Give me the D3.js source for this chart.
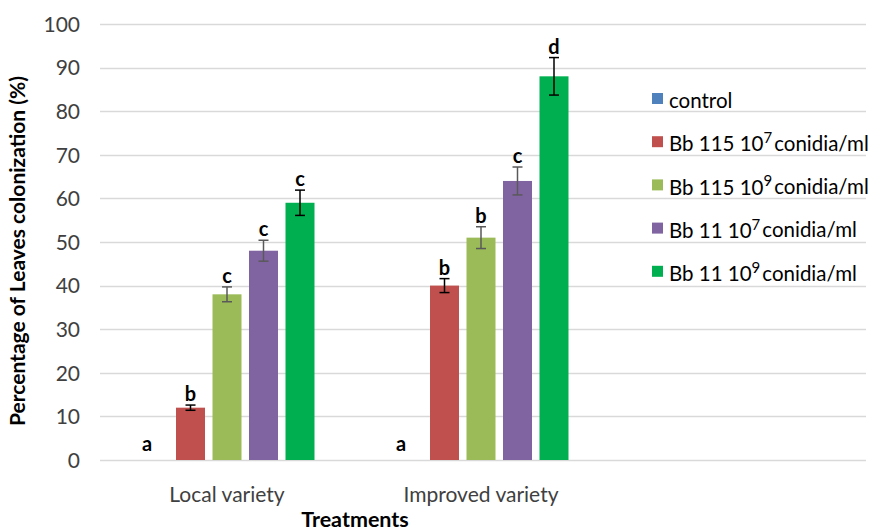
<!DOCTYPE html>
<html>
<head>
<meta charset="utf-8">
<script src="https://cdn.jsdelivr.net/npm/d3@7"></script>
<style>
  html, body { margin: 0; padding: 0; background: #fff; }
  svg { display: block; font-family: Lato, "Open Sans", sans-serif; }
</style>
</head>
<body>
<svg id="chart" width="874" height="532"></svg>
<script>
// Varieties on the category axis (third slot left empty, as in the workbook layout)
const categories = ["Local variety", "Improved variety", ""];
// Treatments (series)
const seriesNames = ["control", "Bb 115 10|7 conidia/ml", "Bb 115 10|9 conidia/ml", "Bb 11 10|7 conidia/ml", "Bb 11 10|9 conidia/ml"];
const seriesColors = ["#4F81BD", "#C0504D", "#9BBB59", "#8064A2", "#00B050"];
const errorColors = ["#000000", "#000000", "#595959", "#595959", "#000000"];
// Mean colonization (%) per series, one entry per variety
const controlValues = [0, 0];
const bb115lowValues = [12, 40];
const bb115highValues = [38, 51];
const bb11lowValues = [48, 64];
const bb11highValues = [59, 88];
// Standard errors
const controlErr = [0, 0];
const bb115lowErr = [0.6, 1.6];
const bb115highErr = [1.7, 2.5];
const bb11lowErr = [2.4, 3.2];
const bb11highErr = [2.9, 4.3];
// Significance letters
const controlLetters = ["a", "a"];
const bb115lowLetters = ["b", "b"];
const bb115highLetters = ["c", "b"];
const bb11lowLetters = ["c", "c"];
const bb11highLetters = ["c", "d"];
const yTicks = [0, 10, 20, 30, 40, 50, 60, 70, 80, 90, 100];

const values = [controlValues, bb115lowValues, bb115highValues, bb11lowValues, bb11highValues];
const errs = [controlErr, bb115lowErr, bb115highErr, bb11lowErr, bb11highErr];
const letters = [controlLetters, bb115lowLetters, bb115highLetters, bb11lowLetters, bb11highLetters];

const svg = d3.select("#chart");
const plot = { left: 100, right: 862, top: 24, bottom: 460 };

const x = d3.scaleBand().domain(categories).range([plot.left, plot.right]).paddingInner(0).paddingOuter(0);
const slotW = 36.5;
const barW = 29;
const xs = d3.scaleBand().domain(d3.range(seriesNames.length))
  .range([-slotW * 2.5, slotW * 2.5]).paddingInner((slotW - barW) / slotW).paddingOuter((slotW - barW) / slotW / 2);
const y = d3.scaleLinear().domain([0, 100]).range([plot.bottom, plot.top]);

// Gridlines
svg.append("g").selectAll("line").data(yTicks).join("line")
  .attr("x1", plot.left).attr("x2", plot.right + 4)
  .attr("y1", d => Math.round(y(d)) + 0.5).attr("y2", d => Math.round(y(d)) + 0.5)
  .attr("stroke", "#D9D9D9").attr("stroke-width", 1.3);

// Y axis labels
const yAxis = d3.axisLeft(y).tickValues(yTicks).tickSize(0).tickPadding(20);
const yg = svg.append("g").attr("transform", `translate(${plot.left},0)`).call(yAxis);
yg.select(".domain").remove();
yg.selectAll("text").attr("font-size", 21).attr("fill", "#404040").attr("font-family", "Lato, sans-serif").attr("dy", "0.35em");

// X axis labels
const xAxis = d3.axisBottom(x).tickSize(0).tickPadding(27);
const xg = svg.append("g").attr("transform", `translate(0,${plot.bottom})`).call(xAxis);
xg.select(".domain").remove();
xg.selectAll("text").attr("font-size", 21).attr("fill", "#404040").attr("font-family", "Lato, sans-serif");

// Bars, error bars and letters
const groups = svg.append("g").selectAll("g").data(categories.slice(0, 2)).join("g")
  .attr("transform", d => `translate(${x(d) + x.bandwidth() / 2},0)`);

groups.each(function (cat, ci) {
  const g = d3.select(this);
  seriesNames.forEach((s, si) => {
    const v = values[si][ci];
    const e = errs[si][ci];
    const bx = xs(si);
    const cx = bx + xs.bandwidth() / 2;
    if (v > 0) {
      g.append("rect").attr("x", bx).attr("width", xs.bandwidth())
        .attr("y", y(v)).attr("height", y(0) - y(v)).attr("fill", seriesColors[si]);
    }
    if (e > 0) {
      const eg = g.append("g").attr("stroke", errorColors[si]).attr("stroke-width", 1.5);
      eg.append("line").attr("x1", cx).attr("x2", cx).attr("y1", y(v + e)).attr("y2", y(v - e));
      eg.append("line").attr("x1", cx - 5).attr("x2", cx + 5).attr("y1", y(v + e)).attr("y2", y(v + e));
      eg.append("line").attr("x1", cx - 5).attr("x2", cx + 5).attr("y1", y(v - e)).attr("y2", y(v - e));
    }
    const top = v > 0 ? y(v + e) - 4 : y(0) - 9;
    g.append("text").attr("x", v > 0 ? cx : cx - 7).attr("y", top)
      .attr("text-anchor", "middle").attr("font-weight", "bold").attr("font-size", 20)
      .attr("fill", "#000").text(letters[si][ci]);
  });
});

// Y axis title
svg.append("text")
  .attr("transform", `translate(25,${(plot.top + plot.bottom) / 2 + 9}) rotate(-90)`)
  .attr("text-anchor", "middle").attr("font-weight", "bold").attr("font-size", 21)
  .attr("fill", "#000").text("Percentage of Leaves colonization (%)");

// X axis title
svg.append("text").attr("x", 355).attr("y", 527).attr("text-anchor", "middle")
  .attr("font-weight", "bold").attr("font-size", 21.5).attr("fill", "#000").text("Treatments");

// Legend
const legend = svg.append("g").attr("transform", "translate(652,102)");
seriesNames.forEach((s, i) => {
  const row = legend.append("g").attr("transform", `translate(0,${i * 43.2})`);
  row.append("rect").attr("x", 0).attr("y", -9).attr("width", 11).attr("height", 11).attr("fill", seriesColors[i]);
  const t = row.append("text").attr("x", 17).attr("y", 0).attr("dy", "0.3em")
    .attr("font-size", 20.5).attr("fill", "#000");
  const parts = s.split("|");
  if (parts.length === 1) {
    t.text(s);
  } else {
    const pre = parts[0];
    const sup = parts[1].split(" ")[0];
    const rest = parts[1].slice(sup.length + 1);
    t.append("tspan").text(pre);
    t.append("tspan").attr("font-size", 15).attr("dy", "-0.55em").text(sup);
    t.append("tspan").attr("dy", "0.38em").attr("dx", 2).text(rest);
  }
});
</script>
</body>
</html>
